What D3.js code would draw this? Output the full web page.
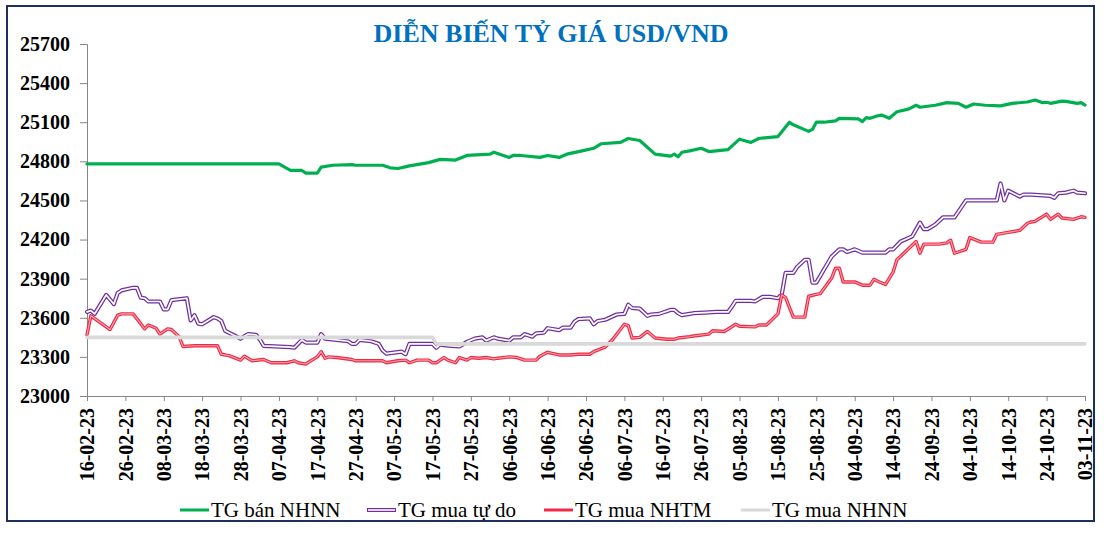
<!DOCTYPE html>
<html>
<head>
<meta charset="utf-8">
<script src="https://cdn.jsdelivr.net/npm/d3@7/dist/d3.min.js"></script>
<style>
  body { margin: 0; background: #fff; }
  svg { display: block; }
</style>
</head>
<body>
<div id="chart"></div>
<script>
// Tỷ giá bán NHNN
const banNHNN = [
  ["16-02-23", 24780], ["07-04-23", 24780], ["10-04-23", 24730], ["13-04-23", 24730], ["14-04-23", 24710],
  ["17-04-23", 24710], ["18-04-23", 24755], ["21-04-23", 24770], ["26-04-23", 24775], ["27-04-23", 24770],
  ["04-05-23", 24770], ["06-05-23", 24750], ["08-05-23", 24745], ["11-05-23", 24765], ["16-05-23", 24790],
  ["19-05-23", 24815], ["23-05-23", 24810], ["26-05-23", 24845], ["01-06-23", 24855], ["02-06-23", 24870],
  ["06-06-23", 24830], ["07-06-23", 24845], ["09-06-23", 24845], ["14-06-23", 24830], ["16-06-23", 24845],
  ["19-06-23", 24830], ["21-06-23", 24855], ["25-06-23", 24880], ["28-06-23", 24900], ["30-06-23", 24935],
  ["05-07-23", 24945], ["07-07-23", 24975], ["10-07-23", 24960], ["14-07-23", 24855], ["18-07-23", 24840],
  ["19-07-23", 24855], ["20-07-23", 24835], ["21-07-23", 24870], ["23-07-23", 24880], ["26-07-23", 24900],
  ["28-07-23", 24875], ["02-08-23", 24890], ["05-08-23", 24970], ["08-08-23", 24945], ["10-08-23", 24975],
  ["15-08-23", 24990], ["18-08-23", 25100], ["19-08-23", 25080], ["23-08-23", 25030], ["24-08-23", 25045],
  ["25-08-23", 25100], ["27-08-23", 25100], ["30-08-23", 25110], ["31-08-23", 25130], ["05-09-23", 25125],
  ["06-09-23", 25105], ["07-09-23", 25135], ["08-09-23", 25130], ["10-09-23", 25150], ["11-09-23", 25155],
  ["13-09-23", 25130], ["15-09-23", 25180], ["18-09-23", 25200], ["20-09-23", 25230], ["21-09-23", 25215],
  ["25-09-23", 25230], ["28-09-23", 25250], ["01-10-23", 25245], ["03-10-23", 25215], ["05-10-23", 25240],
  ["08-10-23", 25230], ["12-10-23", 25225], ["15-10-23", 25245], ["19-10-23", 25255], ["21-10-23", 25270],
  ["23-10-23", 25250], ["24-10-23", 25253], ["25-10-23", 25245], ["28-10-23", 25262], ["29-10-23", 25260],
  ["01-11-23", 25245], ["02-11-23", 25250], ["03-11-23", 25232]
];

// Tỷ giá mua tự do
const muaTuDo = [
  ["16-02-23", 23645], ["17-02-23", 23655], ["18-02-23", 23630], ["21-02-23", 23775], ["23-02-23", 23705],
  ["24-02-23", 23790], ["25-02-23", 23810], ["28-02-23", 23830], ["01-03-23", 23830], ["02-03-23", 23755],
  ["03-03-23", 23750], ["04-03-23", 23725], ["07-03-23", 23725], ["08-03-23", 23665], ["09-03-23", 23665],
  ["10-03-23", 23735], ["14-03-23", 23750], ["15-03-23", 23580], ["16-03-23", 23620], ["17-03-23", 23555],
  ["18-03-23", 23550], ["21-03-23", 23605], ["22-03-23", 23595], ["23-03-23", 23575], ["24-03-23", 23500],
  ["26-03-23", 23470], ["28-03-23", 23440], ["30-03-23", 23475], ["01-04-23", 23470], ["02-04-23", 23435],
  ["03-04-23", 23385], ["10-04-23", 23375], ["11-04-23", 23370], ["13-04-23", 23430], ["14-04-23", 23410],
  ["17-04-23", 23410], ["18-04-23", 23475], ["19-04-23", 23440], ["22-04-23", 23430], ["25-04-23", 23420],
  ["26-04-23", 23400], ["27-04-23", 23400], ["28-04-23", 23430], ["01-05-23", 23420], ["03-05-23", 23400],
  ["04-05-23", 23350], ["05-05-23", 23325], ["09-05-23", 23340], ["10-05-23", 23320], ["11-05-23", 23400],
  ["17-05-23", 23400], ["18-05-23", 23370], ["19-05-23", 23395], ["20-05-23", 23390], ["22-05-23", 23385],
  ["24-05-23", 23380], ["26-05-23", 23415], ["28-05-23", 23440], ["30-05-23", 23450], ["31-05-23", 23425],
  ["02-06-23", 23450], ["03-06-23", 23440], ["06-06-23", 23425], ["07-06-23", 23450], ["09-06-23", 23450],
  ["10-06-23", 23475], ["12-06-23", 23455], ["13-06-23", 23480], ["15-06-23", 23485], ["16-06-23", 23520],
  ["19-06-23", 23505], ["20-06-23", 23525], ["22-06-23", 23525], ["23-06-23", 23570], ["24-06-23", 23590],
  ["27-06-23", 23595], ["28-06-23", 23550], ["29-06-23", 23575], ["01-07-23", 23585], ["04-07-23", 23625],
  ["06-07-23", 23630], ["07-07-23", 23700], ["08-07-23", 23675], ["10-07-23", 23670], ["12-07-23", 23615],
  ["13-07-23", 23625], ["15-07-23", 23630], ["18-07-23", 23660], ["19-07-23", 23660], ["20-07-23", 23635],
  ["21-07-23", 23620], ["23-07-23", 23630], ["24-07-23", 23635], ["27-07-23", 23640], ["30-07-23", 23645],
  ["02-08-23", 23645], ["03-08-23", 23685], ["04-08-23", 23730], ["08-08-23", 23730], ["09-08-23", 23725],
  ["11-08-23", 23760], ["13-08-23", 23760], ["15-08-23", 23750], ["16-08-23", 23780], ["17-08-23", 23945],
  ["19-08-23", 23945], ["20-08-23", 23990], ["22-08-23", 24045], ["23-08-23", 24045], ["24-08-23", 23870],
  ["25-08-23", 23870], ["29-08-23", 24070], ["31-08-23", 24125], ["01-09-23", 24125], ["02-09-23", 24105],
  ["03-09-23", 24115], ["04-09-23", 24125], ["06-09-23", 24100], ["12-09-23", 24100], ["13-09-23", 24125],
  ["14-09-23", 24125], ["16-09-23", 24185], ["19-09-23", 24225], ["21-09-23", 24330], ["22-09-23", 24280],
  ["23-09-23", 24280], ["25-09-23", 24315], ["27-09-23", 24370], ["30-09-23", 24370], ["03-10-23", 24500],
  ["11-10-23", 24500], ["12-10-23", 24630], ["13-10-23", 24500], ["14-10-23", 24575], ["17-10-23", 24530],
  ["18-10-23", 24545], ["20-10-23", 24545], ["25-10-23", 24535], ["26-10-23", 24520], ["27-10-23", 24555],
  ["29-10-23", 24560], ["31-10-23", 24575], ["01-11-23", 24560], ["03-11-23", 24555]
];

// Tỷ giá mua NHTM
const muaNHTM = [
  ["16-02-23", 23470], ["17-02-23", 23615], ["22-02-23", 23510], ["24-02-23", 23620], ["25-02-23", 23630],
  ["28-02-23", 23630], ["02-03-23", 23555], ["03-03-23", 23515], ["04-03-23", 23545], ["06-03-23", 23520],
  ["07-03-23", 23475], ["09-03-23", 23515], ["10-03-23", 23510], ["12-03-23", 23455], ["13-03-23", 23380],
  ["16-03-23", 23385], ["22-03-23", 23385], ["23-03-23", 23320], ["25-03-23", 23310], ["28-03-23", 23275],
  ["29-03-23", 23305], ["31-03-23", 23270], ["03-04-23", 23280], ["05-04-23", 23255], ["09-04-23", 23255],
  ["11-04-23", 23270], ["12-04-23", 23255], ["14-04-23", 23245], ["15-04-23", 23265], ["17-04-23", 23300],
  ["18-04-23", 23340], ["19-04-23", 23290], ["20-04-23", 23300], ["22-04-23", 23295], ["26-04-23", 23280],
  ["27-04-23", 23270], ["04-05-23", 23270], ["05-05-23", 23255], ["08-05-23", 23270], ["10-05-23", 23275],
  ["11-05-23", 23255], ["13-05-23", 23275], ["16-05-23", 23275], ["17-05-23", 23255], ["18-05-23", 23255],
  ["20-05-23", 23295], ["21-05-23", 23275], ["23-05-23", 23255], ["24-05-23", 23295], ["26-05-23", 23275],
  ["27-05-23", 23295], ["29-05-23", 23290], ["31-05-23", 23295], ["02-06-23", 23285], ["03-06-23", 23290],
  ["06-06-23", 23300], ["08-06-23", 23295], ["10-06-23", 23275], ["13-06-23", 23275], ["14-06-23", 23305],
  ["16-06-23", 23335], ["19-06-23", 23315], ["22-06-23", 23315], ["24-06-23", 23320], ["27-06-23", 23320],
  ["28-06-23", 23340], ["01-07-23", 23375], ["03-07-23", 23435], ["06-07-23", 23550], ["07-07-23", 23540],
  ["08-07-23", 23445], ["10-07-23", 23450], ["12-07-23", 23495], ["14-07-23", 23445], ["17-07-23", 23435],
  ["19-07-23", 23435], ["20-07-23", 23445], ["23-07-23", 23455], ["24-07-23", 23460], ["28-07-23", 23475],
  ["29-07-23", 23500], ["01-08-23", 23495], ["04-08-23", 23550], ["05-08-23", 23535], ["09-08-23", 23530],
  ["10-08-23", 23545], ["12-08-23", 23545], ["15-08-23", 23630], ["16-08-23", 23775], ["17-08-23", 23755],
  ["19-08-23", 23605], ["22-08-23", 23605], ["23-08-23", 23765], ["25-08-23", 23780], ["26-08-23", 23785],
  ["29-08-23", 23905], ["30-08-23", 23980], ["31-08-23", 23980], ["01-09-23", 23875], ["04-09-23", 23875],
  ["06-09-23", 23850], ["08-09-23", 23850], ["09-09-23", 23895], ["10-09-23", 23880], ["12-09-23", 23855],
  ["14-09-23", 23950], ["15-09-23", 24045], ["17-09-23", 24100], ["20-09-23", 24185], ["21-09-23", 24095],
  ["22-09-23", 24165], ["26-09-23", 24165], ["28-09-23", 24175], ["29-09-23", 24195], ["30-09-23", 24095],
  ["03-10-23", 24125], ["04-10-23", 24215], ["07-10-23", 24180], ["10-10-23", 24180], ["11-10-23", 24240],
  ["14-10-23", 24255], ["17-10-23", 24270], ["19-10-23", 24325], ["20-10-23", 24335], ["21-10-23", 24340],
  ["24-10-23", 24395], ["25-10-23", 24355], ["27-10-23", 24395], ["28-10-23", 24365], ["31-10-23", 24355],
  ["02-11-23", 24375], ["03-11-23", 24370]
];

// Tỷ giá mua NHNN
const muaNHNN = [
  ["16-02-23", 23450], ["17-05-23", 23450], ["18-05-23", 23400], ["03-11-23", 23400]
];

const tickLabels = [
  "16-02-23", "26-02-23", "08-03-23", "18-03-23", "28-03-23", "07-04-23", "17-04-23",
  "27-04-23", "07-05-23", "17-05-23", "27-05-23", "06-06-23", "16-06-23", "26-06-23",
  "06-07-23", "16-07-23", "26-07-23", "05-08-23", "15-08-23", "25-08-23", "04-09-23",
  "14-09-23", "24-09-23", "04-10-23", "14-10-23", "24-10-23", "03-11-23"
];
const yTicks = [23000, 23300, 23600, 23900, 24200, 24500, 24800, 25100, 25400, 25700];

const seriesNames = ["TG bán NHNN", "TG mua tự do", "TG mua NHTM", "TG mua NHNN"];

const W = 1104, H = 533;
const margin = { top: 44, right: 19, bottom: 137, left: 87 };
const parse = d3.timeParse("%d-%m-%y");
const serif = "'Liberation Serif', 'Times New Roman', serif";

const svg = d3.select("#chart").append("svg")
    .attr("width", W)
    .attr("height", H);

// khung ngoài
svg.append("rect")
    .attr("x", 7).attr("y", 6)
    .attr("width", 1087).attr("height", 515)
    .attr("fill", "none")
    .attr("stroke", "#1f2f5c")
    .attr("stroke-width", 2);

// tiêu đề
svg.append("text")
    .attr("x", 551).attr("y", 42)
    .attr("text-anchor", "middle")
    .attr("font-family", serif)
    .attr("font-weight", "bold")
    .attr("font-size", "26px")
    .attr("fill", "#0070c0")
    .text("DIỄN BIẾN TỶ GIÁ USD/VND");

const x = d3.scaleTime()
    .domain([parse(tickLabels[0]), parse(tickLabels[tickLabels.length - 1])])
    .range([margin.left, W - margin.right]);

const y = d3.scaleLinear()
    .domain([23000, 25700])
    .range([H - margin.bottom, margin.top]);

// trục Y
const yAxis = svg.append("g")
    .attr("transform", `translate(${margin.left},0)`)
    .call(d3.axisLeft(y).tickValues(yTicks).tickSize(7).tickPadding(10).tickFormat(d3.format("d")));
yAxis.selectAll("path, line").attr("stroke", "#868686");
yAxis.selectAll("text")
    .attr("font-family", serif)
    .attr("font-weight", "bold")
    .attr("font-size", "20px")
    .attr("fill", "#000");

// trục X
const xAxis = svg.append("g")
    .attr("transform", `translate(0,${H - margin.bottom})`)
    .call(d3.axisBottom(x).tickValues(tickLabels.map(parse)).tickSize(5).tickSizeOuter(0)
        .tickFormat(d3.timeFormat("%d-%m-%y")));
xAxis.selectAll("path, line").attr("stroke", "#868686");
xAxis.selectAll("text")
    .attr("font-family", serif)
    .attr("font-weight", "bold")
    .attr("font-size", "20px")
    .attr("fill", "#000")
    .attr("text-anchor", "end")
    .attr("transform", "rotate(-90)")
    .attr("x", -12)
    .attr("y", 0)
    .attr("dy", "0.34em");

const line = d3.line()
    .x(d => x(parse(d[0])))
    .y(d => y(d[1]));

function drawLine(data, color, width) {
    svg.append("path")
        .datum(data)
        .attr("d", line)
        .attr("fill", "none")
        .attr("stroke", color)
        .attr("stroke-width", width)
        .attr("stroke-linejoin", "round")
        .attr("stroke-linecap", "round");
}

drawLine(banNHNN, "#00b050", 3.2);
drawLine(muaTuDo, "#7030a0", 4.2);
drawLine(muaTuDo, "#ffffff", 1.7);
drawLine(muaNHTM, "#ee2a45", 3.4);
drawLine(muaNHTM, "#f6a3b0", 1.1);
drawLine(muaNHNN, "#d9d9d9", 3.6);

// chú thích
const legendItems = [
    { name: seriesNames[0], x: 180, color: "#00b050", inner: null },
    { name: seriesNames[1], x: 367, color: "#7030a0", inner: "#ffffff" },
    { name: seriesNames[2], x: 544, color: "#ee2a45", inner: null },
    { name: seriesNames[3], x: 741, color: "#d9d9d9", inner: null }
];
const legend = svg.append("g");
legendItems.forEach(item => {
    legend.append("line")
        .attr("x1", item.x).attr("x2", item.x + 29)
        .attr("y1", 510).attr("y2", 510)
        .attr("stroke", item.color)
        .attr("stroke-width", item.inner ? 4 : 3);
    if (item.inner) {
        legend.append("line")
            .attr("x1", item.x + 1).attr("x2", item.x + 28)
            .attr("y1", 510).attr("y2", 510)
            .attr("stroke", item.inner)
            .attr("stroke-width", 1.6);
    }
    legend.append("text")
        .attr("x", item.x + 31).attr("y", 517)
        .attr("font-family", serif)
        .attr("font-size", "21px")
        .attr("fill", "#000")
        .text(item.name);
});
</script>
</body>
</html>
